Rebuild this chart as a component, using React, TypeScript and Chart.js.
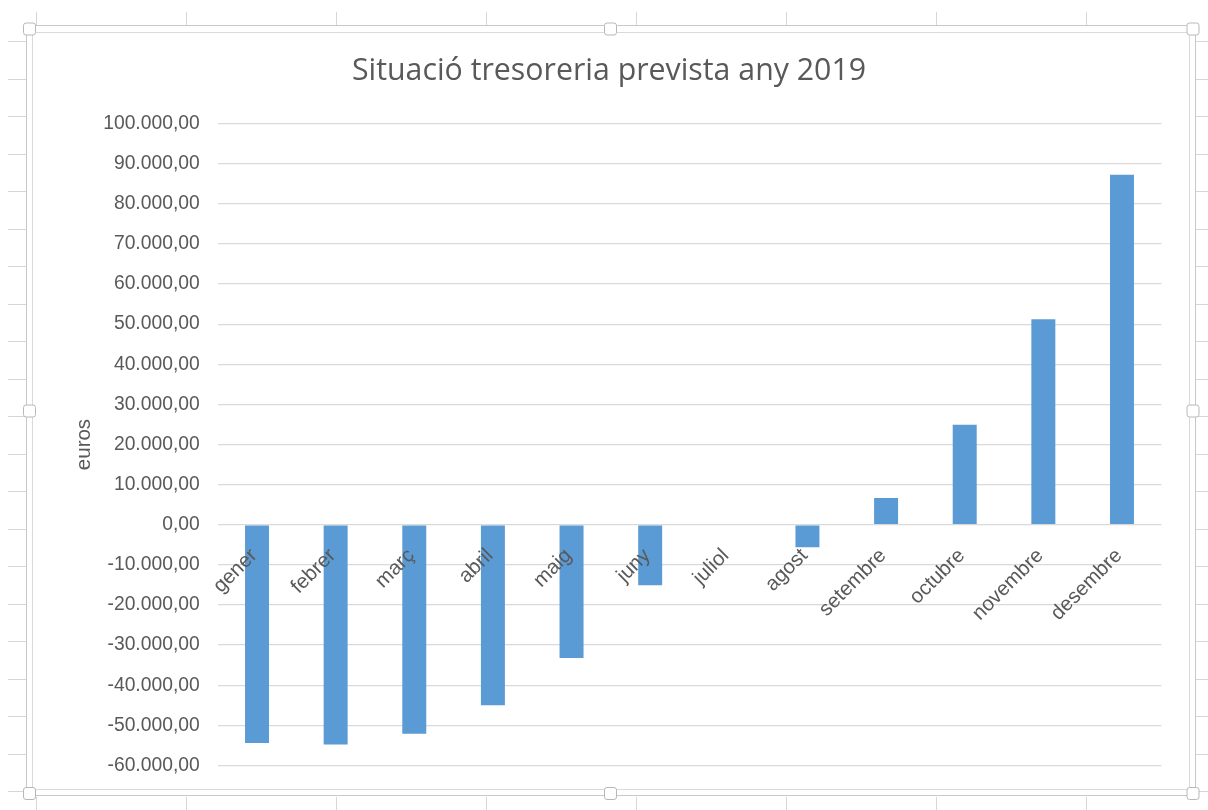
import React, { useEffect, useRef } from 'react';
import { Chart, registerables } from 'chart.js';

Chart.register(...registerables);

const months: string[] = ['gener', 'febrer', 'març', 'abril', 'maig', 'juny', 'juliol', 'agost', 'setembre', 'octubre', 'novembre', 'desembre'];
const balance: number[] = [-54400, -54750, -52100, -45000, -33200, -15100, 0, -5600, 6700, 24900, 51200, 87250];
const yMin = -60000;
const yMax = 100000;
const yStep = 10000;
const chartTitle = 'Situació tresoreria prevista any 2019';
const yTitle = 'euros';

const W = 1208;
const H = 810;

function fmt(v: number): string {
  const neg = v < 0;
  const abs = Math.abs(Math.round(v));
  const s = String(abs).replace(/\B(?=(\d{3})+(?!\d))/g, '.');
  return (neg ? '-' : '') + s + ',00';
}

const sheetPlugin = {
  id: 'sheetBackground',
  beforeDraw(chart: any) {
    const ctx: CanvasRenderingContext2D = chart.ctx;
    ctx.save();
    ctx.fillStyle = '#ffffff';
    ctx.fillRect(0, 0, W, H);
    const line = (x1: number, y1: number, x2: number, y2: number) => {
      ctx.beginPath();
      ctx.moveTo(x1, y1);
      ctx.lineTo(x2, y2);
      ctx.stroke();
    };
    ctx.strokeStyle = '#d6d6d6';
    ctx.lineWidth = 1;
    for (let y = 41; y < H; y += 37.5) {
      line(8, Math.round(y) + 0.5, 26, Math.round(y) + 0.5);
      line(1196, Math.round(y) + 0.5, W, Math.round(y) + 0.5);
    }
    for (let x = 36; x < W; x += 150) {
      line(x + 0.5, 12, x + 0.5, 25);
      line(x + 0.5, 797, x + 0.5, H);
    }
    // frame band
    ctx.strokeStyle = '#c8c8c8';
    ctx.strokeRect(26.5, 25.5, 1169, 770);
    ctx.strokeStyle = '#dadada';
    ctx.strokeRect(32.5, 32.5, 1157, 757);
    // handles
    const hx = [29.5, 610.5, 1193];
    const hy = [29, 411, 793.5];
    ctx.fillStyle = '#ffffff';
    ctx.strokeStyle = '#b8b8b8';
    for (const x of hx) {
      for (const y of hy) {
        if (x === 610.5 && y === 411) continue;
        ctx.beginPath();
        const s = 12;
        const r = 2.5;
        const l = x - s / 2;
        const t = y - s / 2;
        ctx.moveTo(l + r, t);
        ctx.lineTo(l + s - r, t);
        ctx.quadraticCurveTo(l + s, t, l + s, t + r);
        ctx.lineTo(l + s, t + s - r);
        ctx.quadraticCurveTo(l + s, t + s, l + s - r, t + s);
        ctx.lineTo(l + r, t + s);
        ctx.quadraticCurveTo(l, t + s, l, t + s - r);
        ctx.lineTo(l, t + r);
        ctx.quadraticCurveTo(l, t, l + r, t);
        ctx.closePath();
        ctx.fill();
        ctx.stroke();
      }
    }
    ctx.restore();
  },
};

export default function App() {
  const ref = useRef<HTMLCanvasElement | null>(null);

  useEffect(() => {
    if (!ref.current) return;
    const chart = new Chart(ref.current, {
      type: 'bar',
      data: {
        labels: months,
        datasets: [
          {
            data: balance,
            backgroundColor: '#5b9bd5',
            borderWidth: 0,
            barPercentage: 0.305,
            categoryPercentage: 1,
          },
        ],
      },
      options: {
        animation: false,
        responsive: false,
        maintainAspectRatio: false,
        layout: { padding: { left: 56.7, right: 46.7, top: 0, bottom: 44.5 } },
        plugins: {
          legend: { display: false },
          tooltip: { enabled: false },
          title: {
            display: true,
            text: chartTitle,
            color: '#595959',
            font: { family: 'Open Sans', size: 30.3, weight: 'normal' },
            padding: { top: 53, bottom: 34.2 },
          },
        },
        scales: {
          x: {
            position: { y: 0 } as any,
            offset: true,
            grid: { display: false, drawTicks: false },
            border: { display: false },
            ticks: {
              z: 1,
              color: '#595959',
              font: { family: 'Liberation Sans', size: 20.5 },
              minRotation: 45,
              maxRotation: 45,
              autoSkip: false,
              padding: 19,
              labelOffset: -3,
            },
          },
          y: {
            min: yMin,
            max: yMax,
            afterFit(scale: any) {
              scale.width = 161;
            },
            grid: { color: '#d9d9d9', lineWidth: 1.3, drawTicks: false },
            border: { display: false },
            ticks: {
              stepSize: yStep,
              color: '#595959',
              font: { family: 'Liberation Sans', size: 19.3 },
              padding: 18,
              callback: (v: any) => fmt(Number(v)),
            },
            title: {
              display: true,
              text: yTitle,
              color: '#595959',
              font: { family: 'Liberation Sans', size: 20.5 },
              padding: { top: 15.3, bottom: 0 },
            },
          },
        },
      },
      plugins: [sheetPlugin],
    });
    return () => chart.destroy();
  }, []);

  return (
    <div style={{ position: 'absolute', left: 0, top: 0, width: W, height: H, background: '#fff' }}>
      <canvas ref={ref} width={W} height={H} style={{ display: 'block', width: W, height: H }} />
    </div>
  );
}
